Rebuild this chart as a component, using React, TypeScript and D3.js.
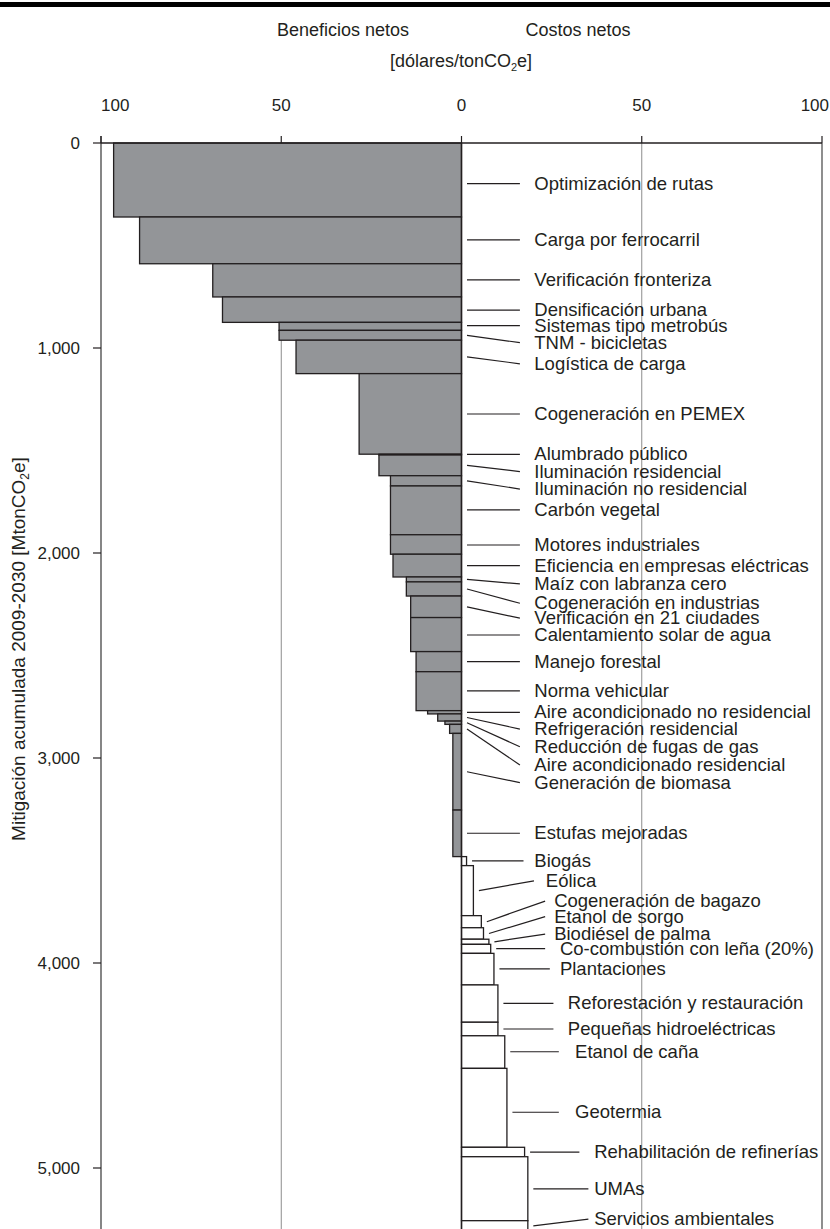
import React from 'react';
import * as d3 from 'd3';

// Measures, ordered as in the cost curve
const measures = [
  'Optimización de rutas',
  'Carga por ferrocarril',
  'Verificación fronteriza',
  'Densificación urbana',
  'Sistemas tipo metrobús',
  'TNM - bicicletas',
  'Logística de carga',
  'Cogeneración en PEMEX',
  'Alumbrado público',
  'Iluminación residencial',
  'Iluminación no residencial',
  'Carbón vegetal',
  'Motores industriales',
  'Eficiencia en empresas eléctricas',
  'Maíz con labranza cero',
  'Cogeneración en industrias',
  'Verificación en 21 ciudades',
  'Calentamiento solar de agua',
  'Manejo forestal',
  'Norma vehicular',
  'Aire acondicionado no residencial',
  'Refrigeración residencial',
  'Reducción de fugas de gas',
  'Aire acondicionado residencial',
  'Generación de biomasa',
  'Estufas mejoradas',
  'Biogás',
  'Eólica',
  'Cogeneración de bagazo',
  'Etanol de sorgo',
  'Biodiésel de palma',
  'Co-combustión con leña (20%)',
  'Plantaciones',
  'Reforestación y restauración',
  'Pequeñas hidroeléctricas',
  'Etanol de caña',
  'Geotermia',
  'Rehabilitación de refinerías',
  'UMAs',
  'Servicios ambientales',
];

// Net cost [dólares/tonCO2e] (negative = net benefit)
const costs = [
  -96.5, -89.3, -69.0, -66.3, -50.6, -50.6, -45.9, -28.4, -22.9, -22.9,
  -19.7, -19.7, -19.7, -19.0, -15.3, -15.3, -14.1, -14.1, -12.6, -12.6,
  -9.4, -6.6, -4.6, -3.3, -2.4, -2.4, 1.4, 3.3, 5.5, 6.1,
  7.6, 8.1, 9.0, 10.1, 10.1, 12.0, 12.6, 17.5, 18.4, 18.4,
];

// Mitigation potential 2009-2030 [MtonCO2e]
const potentials = [
  361, 228, 162, 124, 39, 48, 163, 393, 4, 101,
  50, 238, 95, 111, 24, 69, 105, 166, 98, 190,
  16, 35, 16, 44, 374, 227, 44, 244, 59, 56,
  25, 44, 154, 182, 66, 159, 385, 46, 312, 50,
];

const xTicks = [-100, -50, 0, 50, 100];
const xTickLabels = ['100', '50', '0', '50', '100'];
const yTicks = [0, 1000, 2000, 3000, 4000, 5000];
const gridTicks = [-50, 50];

// Label placement (annotation layout): label height in MtonCO2e units,
// leader end and text start in cost units
const labelAnchorY = [
  198, 473, 668, 815, 891, 974, 1077, 1322, 1519, 1603,
  1688, 1790, 1961, 2062, 2151, 2245, 2318, 2400, 2530, 2673,
  2777, 2859, 2945, 3034, 3120, 3367, 3502, 3599, 3698, 3774,
  3859, 3930, 4029, 4197, 4322, 4433, 4728, 4923, 5102, 5249,
];
const labelLineEnd = [
  16.2, 16.2, 16.2, 16.2, 16.2, 16.2, 16.2, 16.2, 16.2, 16.2,
  16.2, 16.2, 16.2, 16.2, 16.2, 16.2, 16.2, 16.2, 16.2, 16.2,
  16.2, 16.2, 16.2, 16.2, 16.2, 16.2, 17.2, 20.1, 23.2, 23.2,
  23.2, 23.2, 24.5, 25.5, 25.5, 27.0, 27.0, 32.7, 35.2, 35.2,
];
const labelTextX = [
  20.2, 20.2, 20.2, 20.2, 20.2, 20.2, 20.2, 20.2, 20.2, 20.2,
  20.2, 20.2, 20.2, 20.2, 20.2, 20.2, 20.2, 20.2, 20.2, 20.2,
  20.2, 20.2, 20.2, 20.2, 20.2, 20.2, 20.2, 23.4, 25.7, 25.7,
  25.7, 27.3, 27.3, 29.5, 29.5, 31.5, 31.5, 36.8, 36.8, 36.8,
];

const FONT = "'Liberation Sans', Arial, Helvetica, sans-serif";
const INK = '#231f20';

export default function App() {
  const W = 830;
  const H = 1229;
  const x = d3.scaleLinear().domain([-100, 100]).range([101, 822]);
  const y = d3.scaleLinear().domain([0, 5000]).range([143, 1168]);
  const ends = Array.from(d3.cumsum(potentials));
  const starts = ends.map((e, i) => e - potentials[i]);
  const x0 = x(0);

  const bars = measures.map((m, i) => {
    const c = costs[i];
    const y0 = y(starts[i]);
    const y1 = y(ends[i]);
    return {
      m,
      c,
      xLeft: Math.min(x(c), x0),
      xRight: Math.max(x(c), x0),
      y0,
      y1,
      mid: (y0 + y1) / 2,
    };
  });

  return (
    <svg
      width={W}
      height={H}
      viewBox={`0 0 ${W} ${H}`}
      style={{ position: 'absolute', left: 0, top: 0, background: '#fff', overflow: 'hidden' }}
      fontFamily={FONT}
    >
      <rect x={0} y={0} width={W} height={H} fill="#fff" />
      {/* top rule */}
      <rect x={0} y={2} width={W} height={5} fill="#000" />

      {/* headers */}
      <text x={343} y={36} textAnchor="middle" fontSize={18} fill={INK}>Beneficios netos</text>
      <text x={578} y={36} textAnchor="middle" fontSize={18} fill={INK}>Costos netos</text>
      <text x={461} y={67} textAnchor="middle" fontSize={18} fill={INK}>
        [dólares/tonCO<tspan fontSize={11} dy={4}>2</tspan><tspan dy={-4}>e]</tspan>
      </text>

      {/* gridlines at ±50 */}
      {gridTicks.map((t) => (
        <line key={t} x1={x(t)} x2={x(t)} y1={y(0)} y2={H} stroke="#8c8c8c" strokeWidth={1} />
      ))}

      {/* bars */}
      {bars.map((b, i) => (
        <rect
          key={i}
          x={b.xLeft}
          y={b.y0}
          width={b.xRight - b.xLeft}
          height={b.y1 - b.y0}
          fill={b.c < 0 ? '#939598' : '#ffffff'}
          stroke={INK}
          strokeWidth={1.3}
        />
      ))}

      {/* zero line */}
      <line x1={x0} x2={x0} y1={y(0)} y2={H} stroke={INK} strokeWidth={1.4} />
      {/* right frame */}
      <line x1={x(100)} x2={x(100)} y1={y(0)} y2={H} stroke="#444" strokeWidth={1.2} />
      {/* left axis */}
      <line x1={x(-100)} x2={x(-100)} y1={y(0) - 7} y2={H} stroke="#444" strokeWidth={1.3} />
      {/* top axis */}
      <line x1={x(-100)} x2={x(100)} y1={y(0)} y2={y(0)} stroke={INK} strokeWidth={1.4} />

      {/* top ticks */}
      {xTicks.map((t, i) => (
        <g key={t}>
          <line x1={x(t)} x2={x(t)} y1={y(0) - 7} y2={y(0)} stroke={INK} strokeWidth={1.2} />
          <text
            x={i === 0 ? x(t) : i === xTicks.length - 1 ? x(t) + 7 : x(t)}
            y={111}
            textAnchor={i === 0 ? 'start' : i === xTicks.length - 1 ? 'end' : 'middle'}
            fontSize={17}
            fill={INK}
          >
            {xTickLabels[i]}
          </text>
        </g>
      ))}

      {/* left ticks */}
      {yTicks.map((t) => (
        <g key={t}>
          <line x1={x(-100) - 8} x2={x(-100)} y1={y(t)} y2={y(t)} stroke={INK} strokeWidth={1.2} />
          <text x={80} y={y(t) + 6} textAnchor="end" fontSize={17} fill={INK}>
            {d3.format(',')(t)}
          </text>
        </g>
      ))}

      {/* y title */}
      <text
        transform={`translate(25,649) rotate(-90)`}
        textAnchor="middle"
        fontSize={19}
        fill={INK}
      >
        Mitigación acumulada 2009-2030 [MtonCO<tspan fontSize={12} dy={4}>2</tspan><tspan dy={-4}>e]</tspan>
      </text>

      {/* labels with leaders */}
      {bars.map((b, i) => {
        const sx = Math.max(b.xRight, x0) + 5.5;
        const ly = y(labelAnchorY[i]);
        const ex = x(labelLineEnd[i]);
        const inside = ly >= b.y0 && ly <= b.y1 && Math.abs(ly - b.mid) < 5;
        const sy = inside ? ly : b.mid;
        return (
          <g key={'l' + i}>
            <line x1={sx} y1={sy} x2={ex} y2={ly} stroke={INK} strokeWidth={1.2} />
            <text x={x(labelTextX[i])} y={ly + 6} fontSize={18.5} fill={INK}>
              {b.m}
            </text>
          </g>
        );
      })}
    </svg>
  );
}
